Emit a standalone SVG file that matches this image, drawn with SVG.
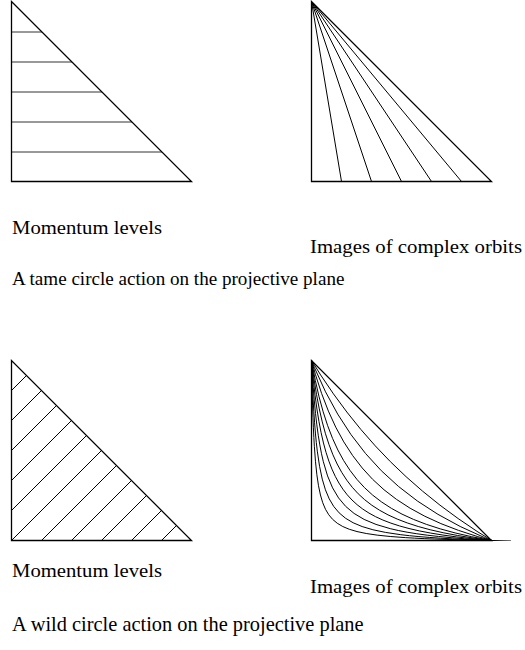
<svg xmlns="http://www.w3.org/2000/svg" xmlns:xlink="http://www.w3.org/1999/xlink" width="525" height="650" viewBox="0 0 525 650">
<style>
.edge{fill:none;stroke:#000;stroke-width:1.3;stroke-linejoin:miter}
.ln{fill:none;stroke:#000;stroke-width:1}
.hl{fill:none;stroke:#333;stroke-width:1}
.crv{fill:none;stroke:#000;stroke-width:1;vector-effect:non-scaling-stroke}
text{font-family:"Liberation Serif","Times New Roman",serif;fill:#000}
.lbl{font-size:19px}
</style>
<defs>
<path id="hyp" class="crv" d="M 0.088388 11.3137 Q 0.103553 9.37258 0.125 8 Q 0.146447 6.62742 0.176777 5.65685 Q 0.207107 4.68629 0.25 4 Q 0.292893 3.31371 0.353553 2.82843 Q 0.414214 2.34315 0.5 2 Q 0.585786 1.65685 0.707107 1.41421 Q 0.828427 1.17157 1 1 Q 1.171573 0.828427 1.41421 0.707107 Q 1.65685 0.585786 2 0.5 Q 2.34315 0.414214 2.82843 0.353553 Q 3.31371 0.292893 4 0.25 Q 4.68629 0.207107 5.65685 0.176777 Q 6.62742 0.146447 8 0.125 Q 9.37258 0.103553 11.3137 0.088388"/>
<clipPath id="wildclip"><rect x="311" y="360.5" width="200" height="180"/></clipPath>
</defs>

<g id="tame-momentum">
<path class="hl" d="M11.5 32H42 M11.5 62H72 M11.5 92H102 M11.5 122H132 M11.5 152H162"/>
<path class="edge" d="M11.5 1.5V181.5H191.5Z"/>
</g>

<g id="tame-orbits">
<path class="ln" d="M311.5 1.5L341.5 181.5 M311.5 1.5L371.5 181.5 M311.5 1.5L401.5 181.5 M311.5 1.5L431.5 181.5 M311.5 1.5L461.5 181.5"/>
<path class="edge" d="M311.5 1.5V181.5H491.5Z"/>
</g>

<g id="wild-momentum">
<path class="ln" d="M11.5 390.5L26.5 375.5 M11.5 420.5L41.5 390.5 M11.5 450.5L56.5 405.5 M11.5 480.5L71.5 420.5 M11.5 510.5L86.5 435.5 M11.5 540.5L101.5 450.5 M41.5 540.5L116.5 465.5 M71.5 540.5L131.5 480.5 M101.5 540.5L146.5 495.5 M131.5 540.5L161.5 510.5 M161.5 540.5L176.5 525.5"/>
<path class="edge" d="M11.5 360.5V540.5H191.5Z"/>
</g>

<g id="wild-orbits">
<g clip-path="url(#wildclip)">
<use xlink:href="#hyp" href="#hyp" transform="matrix(24.366 0 0 -24.366 308.26 543.74)"/>
<use xlink:href="#hyp" href="#hyp" transform="matrix(33.75 0 0 -33.75 305.38 546.62)"/>
<use xlink:href="#hyp" href="#hyp" transform="matrix(44.589 0 0 -44.589 301.06 550.94)"/>
<use xlink:href="#hyp" href="#hyp" transform="matrix(57.053 0 0 -57.053 294.94 557.06)"/>
<use xlink:href="#hyp" href="#hyp" transform="matrix(71.91 0 0 -71.91 286.3 565.7)"/>
<use xlink:href="#hyp" href="#hyp" transform="matrix(90.735 0 0 -90.735 273.7 578.3)"/>
<use xlink:href="#hyp" href="#hyp" transform="matrix(125.949 0 0 -125.949 246.7 605.3)"/>
<use xlink:href="#hyp" href="#hyp" transform="matrix(190.401 0 0 -190.401 190.9 661.1)"/>
<use xlink:href="#hyp" href="#hyp" transform="matrix(357.856 0 0 -357.856 32.5 819.5)"/>
</g>
<path class="edge" d="M311.5 360.5V540.5H491.5Z"/>
</g>

<g id="labels">
<text class="lbl" x="12" y="234" textLength="150" lengthAdjust="spacingAndGlyphs">Momentum levels</text>
<text class="lbl" x="310" y="253" textLength="212" lengthAdjust="spacingAndGlyphs">Images of complex orbits</text>
<text x="12" y="285" font-size="19.1">A tame circle action on the projective plane</text>
<text class="lbl" x="12" y="577" textLength="150" lengthAdjust="spacingAndGlyphs">Momentum levels</text>
<text class="lbl" x="310" y="593" textLength="212" lengthAdjust="spacingAndGlyphs">Images of complex orbits</text>
<text x="12" y="631" font-size="20.4">A wild circle action on the projective plane</text>
</g>
</svg>
